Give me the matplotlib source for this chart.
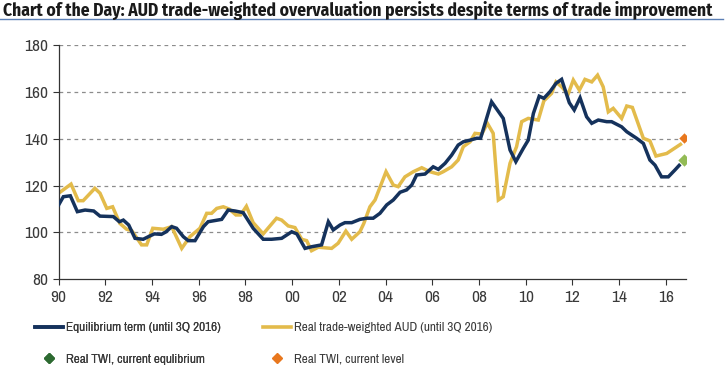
import matplotlib.pyplot as plt
from matplotlib.lines import Line2D

narrow = ['Archivo Narrow', 'Liberation Sans', 'DejaVu Sans']
plt.rcParams['font.family'] = narrow

# Equilibrium term (navy)
eq_year = [1990.0, 1990.2, 1990.5, 1990.8, 1991.13, 1991.5, 1991.77, 1992.34, 1992.6, 1992.77,
           1993.0, 1993.27, 1993.62, 1993.84, 1994.1, 1994.4, 1994.6, 1994.84, 1995.05, 1995.34,
           1995.55, 1995.84, 1996.2, 1996.4, 1996.98, 1997.26, 1997.55, 1997.9, 1998.33, 1998.76,
           1999.12, 1999.55, 1999.98, 2000.2, 2000.55, 2000.83, 2001.26, 2001.55, 2001.76, 2002.05,
           2002.26, 2002.55, 2002.9, 2003.19, 2003.47, 2003.76, 2004.05, 2004.33, 2004.62, 2004.9,
           2005.12, 2005.33, 2005.69, 2006.04, 2006.26, 2006.55, 2006.83, 2007.11, 2007.33, 2007.62,
           2007.9, 2008.07, 2008.54, 2009.04, 2009.33, 2009.58, 2009.9, 2010.11, 2010.33, 2010.58,
           2010.78, 2011.04, 2011.3, 2011.54, 2011.87, 2012.08, 2012.33, 2012.61, 2012.83, 2013.11,
           2013.47, 2013.68, 2014.11, 2014.33, 2014.75, 2015.04, 2015.32, 2015.54, 2015.82, 2016.11,
           2016.39, 2016.63]
eq_val = [111.8, 115.3, 115.7, 108.9, 109.6, 109.2, 107.0, 106.8, 104.6, 105.3,
          103.2, 97.5, 97.1, 98.2, 99.4, 99.2, 100.3, 102.5, 101.8, 98.2,
          96.5, 96.5, 102.5, 104.6, 105.6, 109.6, 109.2, 108.5, 101.8, 97.1,
          97.1, 97.5, 100.3, 99.4, 93.2, 93.9, 94.7, 104.6, 101.1, 103.2,
          104.2, 104.2, 105.6, 106.1, 106.1, 108.2, 111.8, 113.9, 117.2, 118.2,
          120.3, 124.6, 125.0, 128.1, 127.0, 129.6, 133.1, 137.4, 138.8, 139.5,
          140.3, 140.3, 155.9, 148.8, 135.3, 130.3, 136.0, 139.5, 150.9, 158.3,
          157.4, 160.2, 163.8, 165.5, 155.5, 152.4, 157.6, 149.5, 146.7, 148.1,
          147.4, 147.4, 145.2, 143.1, 140.3, 138.1, 131.0, 128.8, 123.8, 123.8,
          126.7, 129.3]

# Real trade-weighted AUD (gold)
twi_year = [1990.0, 1990.53, 1990.84, 1991.05, 1991.55, 1991.77, 1992.06, 1992.31, 1992.62, 1992.91,
            1993.13, 1993.55, 1993.77, 1994.03, 1994.48, 1994.84, 1995.27, 1995.62, 1996.05, 1996.34,
            1996.55, 1996.77, 1997.05, 1997.31, 1997.59, 1997.79, 1998.04, 1998.33, 1998.76, 1999.33,
            1999.55, 1999.83, 2000.12, 2000.41, 2000.62, 2000.83, 2001.12, 2001.69, 2001.97, 2002.3,
            2002.55, 2002.9, 2003.07, 2003.33, 2003.55, 2004.02, 2004.33, 2004.54, 2004.83, 2005.19,
            2005.55, 2005.9, 2006.26, 2006.47, 2006.83, 2007.11, 2007.33, 2007.62, 2007.83, 2008.12,
            2008.36, 2008.61, 2008.83, 2009.04, 2009.33, 2009.61, 2009.83, 2010.11, 2010.54, 2010.78,
            2011.11, 2011.3, 2011.54, 2011.82, 2012.04, 2012.3, 2012.54, 2012.83, 2013.08, 2013.32,
            2013.54, 2013.75, 2014.11, 2014.33, 2014.57, 2015.04, 2015.32, 2015.58, 2016.04, 2016.63]
twi_val = [116.8, 120.7, 113.6, 113.6, 118.9, 116.8, 110.3, 111.0, 103.9, 101.4,
           100.8, 94.7, 94.7, 101.8, 101.4, 102.5, 93.2, 98.2, 101.8, 108.2,
           108.2, 110.3, 111.0, 110.0, 107.5, 107.5, 111.2, 104.2, 99.4, 106.1,
           105.3, 102.8, 102.1, 97.1, 96.5, 92.2, 93.7, 93.2, 95.4, 100.6,
           97.1, 100.3, 103.9, 111.0, 113.9, 126.0, 120.3, 119.6, 123.8, 126.0,
           127.7, 126.0, 125.0, 126.0, 128.1, 131.0, 136.7, 138.8, 142.4, 142.1,
           146.7, 142.4, 113.9, 115.3, 129.6, 136.7, 147.4, 148.8, 148.1, 156.3,
           159.5, 164.4, 162.3, 159.2, 165.2, 160.9, 165.5, 164.4, 167.3, 162.3,
           151.6, 153.1, 148.8, 154.1, 153.5, 140.3, 139.2, 132.7, 133.8, 137.7]

cur_x = 2016.8
cur_equilibrium = 131.0
cur_level = 140.3

navy = '#15325c'
gold = '#e3bb4b'
orange = '#e8771e'
light_green = '#93bb55'
dark_green = '#2d6a31'
text_col = '#3a3a3a'

fig = plt.figure(figsize=(7.27, 3.82), dpi=100)
ax = fig.add_axes([0.0807, 0.269, 0.863, 0.612])

for y in [100, 120, 140, 160, 180]:
    ax.axhline(y, color='#8c8c8c', lw=0.9, ls=(0, (3, 3)), zorder=0)

ax.plot(eq_year, eq_val, color=navy, lw=2.5, solid_joinstyle='miter', zorder=3)
ax.plot(twi_year, twi_val, color=gold, lw=2.5, solid_joinstyle='miter', zorder=2)
ax.plot([cur_x], [cur_equilibrium], 'D', color=light_green, ms=7, mec='white', mew=0.8, zorder=4)
ax.plot([cur_x], [cur_level], 'D', color=orange, ms=6, mec='white', mew=0.8, zorder=4)

ax.set_xlim(1990, 2016.87)
ax.set_ylim(80, 180)
ax.set_yticks([80, 100, 120, 140, 160, 180])
ax.set_xticks(list(range(1990, 2017, 2)))
ax.set_xticklabels(['90', '92', '94', '96', '98', '00', '02', '04', '06', '08', '10', '12', '14', '16'])
for s in ['top', 'right']:
    ax.spines[s].set_visible(False)
for s in ['left', 'bottom']:
    ax.spines[s].set_color('#333333')
    ax.spines[s].set_linewidth(0.9)
ax.tick_params(axis='both', direction='out', length=4, width=0.8, color='#333333',
               labelsize=12.5, labelcolor=text_col)
ax.tick_params(axis='x', pad=4)

leg_kw = dict(loc='upper left', frameon=False, fontsize=9.5, handlelength=2.1,
              handletextpad=0.25, labelspacing=1.55, labelcolor=text_col,
              borderaxespad=0, borderpad=0)
leg1 = fig.legend([Line2D([], [], color=navy, lw=2.6),
                   Line2D([], [], ls='none', marker='D', color=dark_green, ms=5)],
                  ['Equilibrium term (until 3Q 2016)', 'Real TWI, current equlibrium'],
                  bbox_to_anchor=(35 / 727, 0.157), **leg_kw)
leg2 = fig.legend([Line2D([], [], color=gold, lw=2.6),
                   Line2D([], [], ls='none', marker='D', color=orange, ms=5)],
                  ['Real trade-weighted AUD (until 3Q 2016)', 'Real TWI, current level'],
                  bbox_to_anchor=(263 / 727, 0.157), **leg_kw)
fig.add_artist(leg1)

fig.text(0.004, 0.973, 'Chart of the Day: AUD trade-weighted overvaluation persists despite terms of trade improvement',
         fontsize=12.6, fontweight='bold', color='#1a1a1a', va='center', ha='left',
         family=['Fira Sans Condensed', 'Archivo Narrow', 'Liberation Sans'])
fig.add_artist(Line2D([0.0, 0.995], [0.949, 0.949], color='#5b7fb5', lw=1.0))

fig.savefig('out.png', dpi=100)
